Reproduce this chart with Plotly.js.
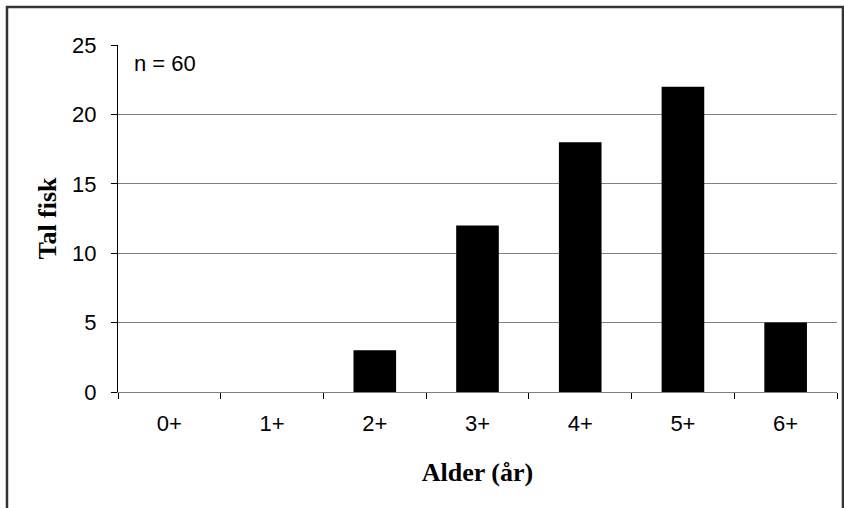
<!DOCTYPE html>
<html>
<head>
<meta charset="utf-8">
<script src="https://cdn.plot.ly/plotly-3.0.1.min.js"></script>
<style>
html,body{margin:0;padding:0;background:#fff;}
#chart{width:844px;height:508px;}
</style>
</head>
<body>
<div id="chart"></div>
<script>
const categories = ["0+", "1+", "2+", "3+", "4+", "5+", "6+"];
const counts = [0, 0, 3, 12, 18, 22, 5];
const yTicks = [0, 5, 10, 15, 20, 25];
const xTitle = "Alder (år)";
const yTitle = "Tal fisk";
const note = "n = 60";

const trace = {
  type: "bar",
  x: categories,
  y: counts,
  marker: {color: "#000000", line: {width: 0}},
  hoverinfo: "x+y"
};

const layout = {
  width: 844,
  height: 508,
  margin: {l: 118, r: 7, t: 45, b: 116, pad: 0},
  paper_bgcolor: "#ffffff",
  plot_bgcolor: "#ffffff",
  bargap: 0.585,
  showlegend: false,
  font: {family: "Liberation Sans", color: "#000000"},
  xaxis: {
    type: "category",
    tickson: "boundaries",
    ticks: "outside",
    ticklen: 6,
    tickwidth: 1,
    tickcolor: "#000000",
    showgrid: false,
    showline: true,
    linecolor: "#808080",
    linewidth: 1,
    zeroline: false,
    tickfont: {family: "Liberation Sans", size: 22, color: "#000000"},
    ticklabelstandoff: 12,
    title: {text: xTitle, font: {family: "Liberation Serif", size: 26, weight: "bold", color: "#000000"}, standoff: 27},
    automargin: false
  },
  yaxis: {
    range: [0, 25],
    tickvals: yTicks,
    ticktext: yTicks.map(String),
    ticks: "outside",
    ticklen: 6,
    tickwidth: 1,
    tickcolor: "#000000",
    showgrid: true,
    gridcolor: "#808080",
    gridwidth: 1,
    showline: true,
    linecolor: "#000000",
    linewidth: 1,
    zeroline: false,
    tickfont: {family: "Liberation Sans", size: 22, color: "#000000"},
    ticklabelstandoff: 10,
    title: {text: yTitle, font: {family: "Liberation Serif", size: 26, weight: "bold", color: "#000000"}, standoff: 8},
    automargin: false
  },
  annotations: [{
    text: note,
    xref: "paper", yref: "paper",
    x: 0.019, y: 0.948,
    xanchor: "left", yanchor: "middle",
    showarrow: false,
    font: {family: "Liberation Sans", size: 22, color: "#000000"}
  }],
  shapes: [{
    type: "rect",
    xref: "paper", yref: "paper",
    x0: -0.1544, x1: 1.0083, y0: -0.40, y1: 1.1095,
    line: {color: "#333333", width: 2.5},
    fillcolor: "rgba(0,0,0,0)",
    layer: "below"
  }]
};

Plotly.newPlot("chart", [trace], layout, {displayModeBar: false, staticPlot: true});
</script>
</body>
</html>
